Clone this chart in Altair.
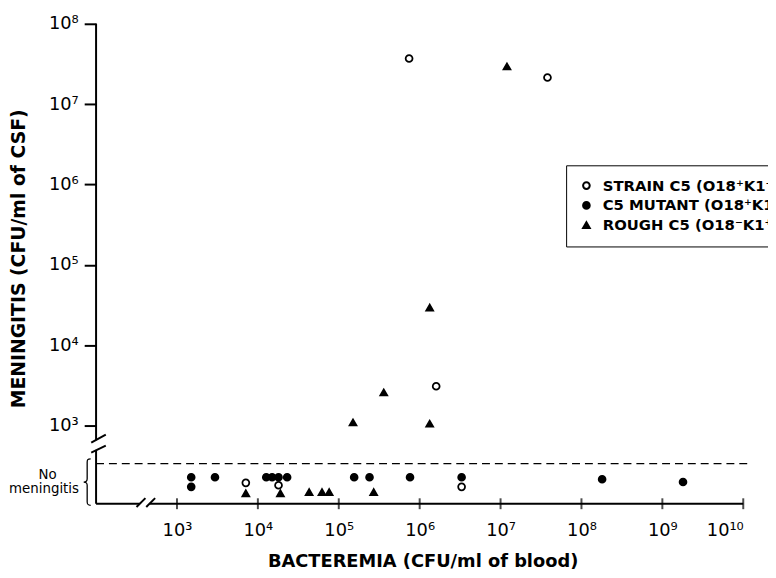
import altair as alt
import numpy as np
import pandas as pd

S = "STRAIN C5 (O18⁺K1⁺)"
M = "C5 MUTANT (O18⁺K1⁻)"
R = "ROUGH C5 (O18⁻K1⁺)"
series_order = [S, M, R]

# Animals with meningitis: bacteremia (CFU/ml blood) and CSF count (CFU/ml)
strain_blood = [7.4e5, 3.8e7, 1.6e6]
strain_csf = [3.7e7, 2.15e7, 3.1e3]
rough_blood = [1.2e7, 1.33e6, 3.6e5, 1.5e5, 1.33e6]
rough_csf = [2.95e7, 2.95e4, 2.6e3, 1.1e3, 1.06e3]

# Animals without meningitis: bacteremia and their row inside the "No meningitis" band
nm_strain_blood = [7.1e3, 1.8e4, 3.3e6]
nm_strain_row = [2.29, 2.26, 2.24]
nm_mutant_blood = [1.5e3, 1.5e3, 2.95e3, 1.27e4, 1.5e4, 1.8e4, 2.3e4,
                   1.55e5, 2.4e5, 7.6e5, 3.3e6, 1.8e8, 1.8e9]
nm_mutant_row = [2.36, 2.24, 2.36, 2.36, 2.36, 2.36, 2.36,
                 2.36, 2.36, 2.36, 2.36, 2.335, 2.30]
nm_rough_blood = [7.1e3, 1.9e4, 4.3e4, 6.2e4, 7.6e4, 2.7e5]
nm_rough_row = [2.16, 2.16, 2.175, 2.175, 2.175, 2.175]

x_ticks = [3, 4, 5, 6, 7, 8, 9, 10]
y_ticks = [3, 4, 5, 6, 7, 8]

rows = []
for b, c in zip(strain_blood, strain_csf):
    rows.append((S, np.log10(b), np.log10(c)))
for b, c in zip(rough_blood, rough_csf):
    rows.append((R, np.log10(b), np.log10(c)))
for b, r in zip(nm_strain_blood, nm_strain_row):
    rows.append((S, np.log10(b), r))
for b, r in zip(nm_mutant_blood, nm_mutant_row):
    rows.append((M, np.log10(b), r))
for b, r in zip(nm_rough_blood, nm_rough_row):
    rows.append((R, np.log10(b), r))
pts = pd.DataFrame(rows, columns=["series", "x", "y"])

SUP = {"0": "⁰", "1": "¹", "2": "²", "3": "³", "4": "⁴",
       "5": "⁵", "6": "⁶", "7": "⁷", "8": "⁸", "9": "⁹"}


def sup(n):
    return "".join(SUP[c] for c in str(n))


def label_expr(vals):
    return " : ".join(f"datum.value == {v} ? '10{sup(v)}'" for v in vals) + " : ''"


FONT = "DejaVu Sans"
xs = alt.Scale(domain=[2, 10], nice=False, zero=False)
ys = alt.Scale(domain=[2.03, 8], nice=False, zero=False)

x_axis = alt.Axis(values=x_ticks, labelExpr=label_expr(x_ticks), ticks=False,
                  domain=False, grid=False, labelFont=FONT, labelFontSize=18,
                  labelColor="black", labelPadding=18,
                  title="BACTEREMIA  (CFU/ml of blood)", titleFont=FONT,
                  titleFontSize=18, titleFontWeight="bold", titleColor="black",
                  titleX=330, titleY=63, titleAlign="center",
                  titleBaseline="alphabetic")
y_axis = alt.Axis(values=y_ticks, labelExpr=label_expr(y_ticks), tickSize=12,
                  tickWidth=2, tickColor="black", domain=False, grid=False,
                  labelFont=FONT, labelFontSize=18, labelColor="black",
                  labelPadding=6,
                  title="MENINGITIS  (CFU/ml of CSF)", titleFont=FONT,
                  titleFontSize=19, titleFontWeight="bold", titleColor="black",
                  titleX=-78, titleY=237, titleAngle=270, titleAlign="center",
                  titleBaseline="middle")


def X(field):
    return alt.X(field, scale=xs, axis=x_axis)


def Y(field):
    return alt.Y(field, scale=ys, axis=y_axis)


legend = alt.Legend(title=None, orient="none", legendX=475, legendY=143,
                    strokeColor="black", fillColor="white", padding=13,
                    labelFont=FONT, labelFontSize=15, labelFontWeight="bold",
                    labelColor="black", labelLimit=0, labelOffset=9,
                    symbolSize=45, symbolStrokeWidth=2,
                    symbolStrokeColor="black", rowPadding=4)

points = alt.Chart(pts).mark_point(strokeWidth=1.8, opacity=1, size=48).encode(
    x=X("x:Q"),
    y=Y("y:Q"),
    shape=alt.Shape("series:N", scale=alt.Scale(
        domain=series_order, range=["circle", "circle", "triangle-up"]),
        legend=legend),
    fill=alt.Fill("series:N", scale=alt.Scale(
        domain=series_order, range=["white", "black", "black"]),
        legend=legend),
    stroke=alt.Stroke("series:N", scale=alt.Scale(
        domain=series_order, range=["black", "black", "black"]),
        legend=legend),
)

# Axis lines with breaks, and break slashes (data units)
seg_x = [2.0, 2.0, 2.0, 2.66, 1.94, 1.94, 2.50, 2.62]
seg_x2 = [2.0, 2.0, 2.54, 10.0, 2.12, 2.12, 2.61, 2.73]
seg_y = [8.0, 2.70, 2.03, 2.03, 2.79, 2.667, 1.99, 1.99]
seg_y2 = [2.82, 2.03, 2.03, 2.03, 2.89, 2.754, 2.10, 2.10]
segs = pd.DataFrame({"x": seg_x, "x2": seg_x2, "y": seg_y, "y2": seg_y2})
lines = alt.Chart(segs).mark_rule(color="black", strokeWidth=2).encode(
    x=X("x:Q"), x2="x2:Q", y=Y("y:Q"), y2="y2:Q")

# x-axis ticks crossing the axis line
tk = pd.DataFrame({"x": x_ticks, "y": [2.03] * len(x_ticks)})
ticks = alt.Chart(tk).mark_tick(orient="vertical", color="black", size=11,
                                thickness=2).encode(x=X("x:Q"), y=Y("y:Q"))

# dashed boundary of "No meningitis" band
dash_df = pd.DataFrame({"x": [2.0], "x2": [10.09], "y": [2.53]})
dash = alt.Chart(dash_df).mark_rule(color="black", strokeWidth=1.3,
                                    strokeDash=[8, 5]).encode(
    x=X("x:Q"), x2="x2:Q", y=Y("y:Q"))

# "No meningitis" label and brace
lab_df = pd.DataFrame({"x": [1.40, 1.357], "y": [2.385, 2.215],
                       "t": ["No", "meningitis"]})
labels = alt.Chart(lab_df).mark_text(font=FONT, fontSize=13.5, color="black",
                                     align="center", baseline="middle").encode(
    x=X("x:Q"), y=Y("y:Q"), text="t:N")

BRACE = ("M 0.15 -1 C 0.02 -1 0 -0.96 0 -0.85 L 0 -0.14 C 0 -0.04 -0.05 0 -0.15 0 "
         "C -0.05 0 0 0.04 0 0.14 L 0 0.85 C 0 0.96 0.02 1 0.15 1")
br_df = pd.DataFrame({"x": [1.89], "y": [2.30]})
brace = alt.Chart(br_df).mark_point(shape=BRACE, size=2209, filled=False,
                                    stroke="black", strokeWidth=1.3,
                                    opacity=1).encode(x=X("x:Q"), y=Y("y:Q"))

chart = alt.layer(points, lines, ticks, dash, labels, brace).properties(
    width=654, height=485,
    autosize=alt.AutoSizeParams(type="none"),
    padding={"left": 89, "top": 13, "right": 25, "bottom": 64},
).configure(background="white", view=alt.ViewConfig(stroke=None))

chart.save("out.html", embed_options={"renderer": "svg", "actions": False})
